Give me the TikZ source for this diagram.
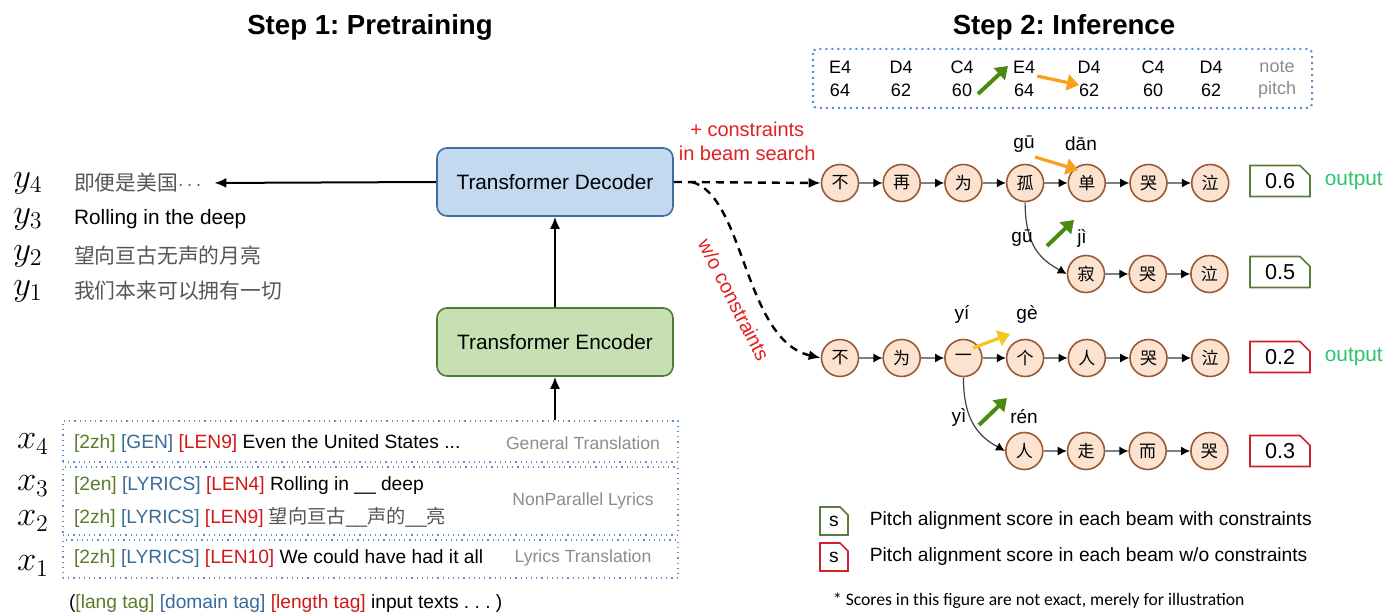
\documentclass[tikz,border=0pt]{standalone}
\usepackage{fontspec}
\setmainfont{Liberation Sans}
\newfontfamily\cjk{Noto Sans CJK SC}
\newfontfamily\notefont{Carlito}
\usetikzlibrary{positioning, arrows.meta, shapes.misc}
\frenchspacing

\definecolor{decfill}{HTML}{C3D9EF}
\definecolor{decdraw}{HTML}{3D6E9E}
\definecolor{encfill}{HTML}{C6E0B4}
\definecolor{encdraw}{HTML}{4E7A33}
\definecolor{tokfill}{HTML}{FBE3D0}
\definecolor{tokdraw}{HTML}{9A5A35}
\definecolor{grnbox}{HTML}{5A7A3A}
\definecolor{redbox}{HTML}{D0202A}
\definecolor{outgreen}{HTML}{2BC46A}
\definecolor{taggreen}{HTML}{5B7B2B}
\definecolor{tagblue}{HTML}{3A6B9A}
\definecolor{tagred}{HTML}{D01818}
\definecolor{dotblue}{HTML}{5B8FCC}
\definecolor{arrgreen}{HTML}{4A8A10}
\definecolor{arrorange}{HTML}{F7A01C}
\definecolor{arryellow}{HTML}{F5C520}
\definecolor{labred}{HTML}{E02020}
\definecolor{softgray}{HTML}{8C8C8C}
\definecolor{cjkgray}{HTML}{555555}

\newcommand{\langtag}[1]{\textcolor{taggreen}{[#1]}}
\newcommand{\domtag}[1]{\textcolor{tagblue}{[#1]}}
\newcommand{\lentag}[1]{\textcolor{tagred}{[#1]}}
\newcommand{\gap}{\_\_}

\begin{document}
\begin{tikzpicture}[x=0.5pt, y=-0.5pt,
    title/.style={font=\bfseries\fontsize{13.8}{16}\selectfont},
    block/.style={draw, rounded corners=5pt, line width=0.8pt, minimum width=118pt, minimum height=34pt, font=\fontsize{10.4}{12}\selectfont},
    mathlab/.style={font=\fontsize{17}{20}\selectfont},
    txt/.style={anchor=west, font=\fontsize{10.4}{12}\selectfont},
    cat/.style={text=softgray, font=\fontsize{8.8}{10}\selectfont},
    inbox/.style={draw=dotblue, dotted, line width=0.6pt, minimum width=307.5pt},
    tok/.style={circle, draw=tokdraw, fill=tokfill, line width=0.8pt, minimum size=18.5pt, inner sep=0pt, font=\cjk\fontsize{8.5}{10}\selectfont},
    link/.style={draw=gray, line width=0.6pt, -{Latex[black, length=4.5pt, width=4.5pt]}},
    score/.style={chamfered rectangle, chamfered rectangle corners=north east, chamfered rectangle sep=2.5pt, draw, fill=white, line width=0.8pt, minimum width=30pt, minimum height=15.5pt, inner sep=0pt, font=\fontsize{10.8}{12}\selectfont},
    pin/.style={font=\fontsize{9.5}{11}\selectfont},
    note/.style={font=\fontsize{9}{10}\selectfont},
    redlab/.style={text=labred, align=center, font=\fontsize{10}{12}\selectfont},
    outlab/.style={text=outgreen, font=\fontsize{10.4}{12}\selectfont},
    dashline/.style={dashed, dash pattern=on 4pt off 3pt, line width=1.2pt, -{Latex[length=6pt, width=5pt]}},
    hint/.style={line width=2pt, -{Triangle[length=6pt, width=8pt]}},
    >={Latex[length=6pt, width=5pt]}]

    \useasboundingbox (0,0) rectangle (1387,614);

    % Titel
    \node[title] (t1) at (370,27) {Step 1: Pretraining};
    \node[title] (t2) at (1064,27) {Step 2: Inference};

    % Encoder / Decoder
    \node[block, fill=decfill, draw=decdraw] (dec) at (555,182) {Transformer Decoder};
    \node[block, fill=encfill, draw=encdraw] (enc) at (555,342) {Transformer Encoder};
    \draw[->, line width=1pt] (enc) -- (dec);

    % Ausgaben
    \node[mathlab] (y4) at (28,183) {$y_4$};
    \node[mathlab] (y3) at (28,219) {$y_3$};
    \node[mathlab] (y2) at (28,256) {$y_2$};
    \node[mathlab] (y1) at (28,291) {$y_1$};
    \node[txt, text=cjkgray] (o4) at (67,183) {{\cjk 即便是美国}$\cdots$};
    \node[txt] (o3) at (67,219) {Rolling in the deep};
    \node[txt, text=cjkgray] (o2) at (67,256) {\cjk 望向亘古无声的月亮};
    \node[txt, text=cjkgray] (o1) at (67,291) {\cjk 我们本来可以拥有一切};
    \draw[->, line width=1pt, shorten >=3pt] (dec.west) -- (o4.east);

    % Eingaben
    \node[inbox, minimum height=20.5pt] (box4) at (370.5,441.5) {};
    \node[inbox, minimum height=34pt] (box23) at (370.5,501) {};
    \node[inbox, minimum height=19pt] (box1) at (370.5,559) {};
    \draw[->, line width=1pt] (enc.south |- box4.north) -- (enc.south);

    \node[mathlab] (x4) at (33,444) {$x_4$};
    \node[mathlab] (x3) at (33,486) {$x_3$};
    \node[mathlab] (x2) at (33,521) {$x_2$};
    \node[mathlab] (x1) at (33,566) {$x_1$};
    \node[txt, font=\fontsize{9.6}{11}\selectfont] (in4) at (67,444) {\langtag{2zh} \domtag{GEN} \lentag{LEN9} Even the United States ...};
    \node[txt, font=\fontsize{9.6}{11}\selectfont] (in3) at (67,486) {\langtag{2en} \domtag{LYRICS} \lentag{LEN4} Rolling in \gap{} deep};
    \node[txt, font=\fontsize{9.6}{11}\selectfont] (in2) at (67,517) {\langtag{2zh} \domtag{LYRICS} \lentag{LEN9} \textcolor{cjkgray}{{\cjk 望向亘古}\gap{\cjk 声的}\gap{\cjk 亮}}};
    \node[txt, font=\fontsize{9.6}{11}\selectfont] (in1) at (67,559) {\langtag{2zh} \domtag{LYRICS} \lentag{LEN10} We could have had it all};
    \node[cat] (c4) at (583,443) {General Translation};
    \node[cat] (c23) at (583,501) {NonParallel Lyrics};
    \node[cat] (c1) at (583,558) {Lyrics Translation};
    \node[txt, font=\fontsize{9.6}{11}\selectfont] (tags) at (62,604) {(\langtag{lang tag} \domtag{domain tag} \lentag{length tag} input texts . . . )};

    % Noten und Tonhoehen
    \draw[draw=dotblue, dotted, line width=1pt, rounded corners=2pt] (813,49) rectangle (1312,108);
    \foreach \nt/\ph/\xx in {E4/64/840, D4/62/901, C4/60/962, E4/64/1024, D4/62/1089, C4/60/1153, D4/62/1211}{
        \node[note] at (\xx,67) {\nt};
        \node[note] at (\xx,90) {\ph};
    }
    \node[note, text=softgray] (nlab) at (1277,67) {note};
    \node[note, text=softgray] (plab) at (1277,90) {pitch};
    \draw[hint, arrgreen] (978,94) -- (1008,66);
    \draw[hint, arrorange, line width=1.6pt] (1037,76) -- (1079,85);

    % Beams mit Constraints
    \foreach \ch [count=\i, remember=\i as \p (initially 0)] in {不,再,为,孤,单,哭,泣}{
        \node[tok] (a\i) at ({778.3+61.7*\i},183) {\ch};
        \ifnum\i>1 \draw[link] (a\p) -- (a\i);\fi
    }
    \foreach \ch [count=\i, remember=\i as \p (initially 0)] in {寂,哭,泣}{
        \node[tok] (c\i) at ({1024.3+61.7*\i},274) {\ch};
        \ifnum\i>1 \draw[link] (c\p) -- (c\i);\fi
    }
    \draw[link, draw=darkgray] (a4.south) .. controls +(0,45) and +(-25,-14) .. (c1.west);

    % Beams ohne Constraints
    \foreach \ch [count=\i, remember=\i as \p (initially 0)] in {不,为,一,个,人,哭,泣}{
        \node[tok] (b\i) at ({778.3+61.7*\i},358) {\ch};
        \ifnum\i>1 \draw[link] (b\p) -- (b\i);\fi
    }
    \foreach \ch [count=\i, remember=\i as \p (initially 0)] in {人,走,而,哭}{
        \node[tok] (d\i) at ({962.6+61.7*\i},451) {\ch};
        \ifnum\i>1 \draw[link] (d\p) -- (d\i);\fi
    }
    \draw[link, draw=darkgray] (b3.south) .. controls +(0,45) and +(-25,-14) .. (d1.west);

    % Pinyin
    \node[pin] at (1024,144) {gū};
    \node[pin] at (1081,144) {dān};
    \node[pin] at (1022,238) {gū};
    \node[pin] at (1082,238) {jì};
    \node[pin] at (962,314) {yí};
    \node[pin] at (1027,314) {gè};
    \node[pin] at (959,417) {yì};
    \node[pin] at (1024,417) {rén};
    \draw[hint, arrorange, line width=1.6pt] (1035,157) -- (1078,170);
    \draw[hint, arrgreen] (1047,246) -- (1074,220);
    \draw[hint, arryellow, line width=1.6pt] (973,348) -- (1010,334);
    \draw[hint, arrgreen] (979,425) -- (1007,398);

    % Scores
    \node[score, draw=grnbox] (s1) at (1280,181) {0.6};
    \node[score, draw=grnbox] (s2) at (1280,272) {0.5};
    \node[score, draw=redbox] (s3) at (1280,357) {0.2};
    \node[score, draw=redbox] (s4) at (1280,451) {0.3};
    \node[outlab, right=3.5pt of s1] (out1) {output};
    \node[outlab, right=3.5pt of s3] (out3) {output};

    % Decoder zu Beams
    \coordinate[right=9pt of dec.east] (fork);
    \draw[dashline] (dec.east) -- node[redlab, above=7pt] {+ constraints\\in beam search} (a1.west);
    \draw[dashline] (fork) .. controls +(53,14) and +(-77,-18) .. (b1.west);
    \node[redlab, rotate=-63] (wo) at (734,300) {w/o constraints};

    % Legende
    \node[score, draw=grnbox, minimum width=14pt, minimum height=14pt, chamfered rectangle sep=2pt, font=\fontsize{9.6}{11}\selectfont] (lg1) at (834,521) {s};
    \node[score, draw=redbox, minimum width=14pt, minimum height=14pt, chamfered rectangle sep=2pt, font=\fontsize{9.6}{11}\selectfont] (lg2) at (834,557) {s};
    \node[txt, font=\fontsize{9.6}{11}\selectfont, right=7pt of lg1] (lt1) {Pitch alignment score in each beam with constraints};
    \node[txt, font=\fontsize{9.6}{11}\selectfont, right=7pt of lg2] (lt2) {Pitch alignment score in each beam w/o constraints};
    \node[anchor=west, font=\notefont\fontsize{8.8}{10}\selectfont] (fn) at (826,601) {* Scores in this figure are not exact, merely for illustration};
\end{tikzpicture}
\end{document}
